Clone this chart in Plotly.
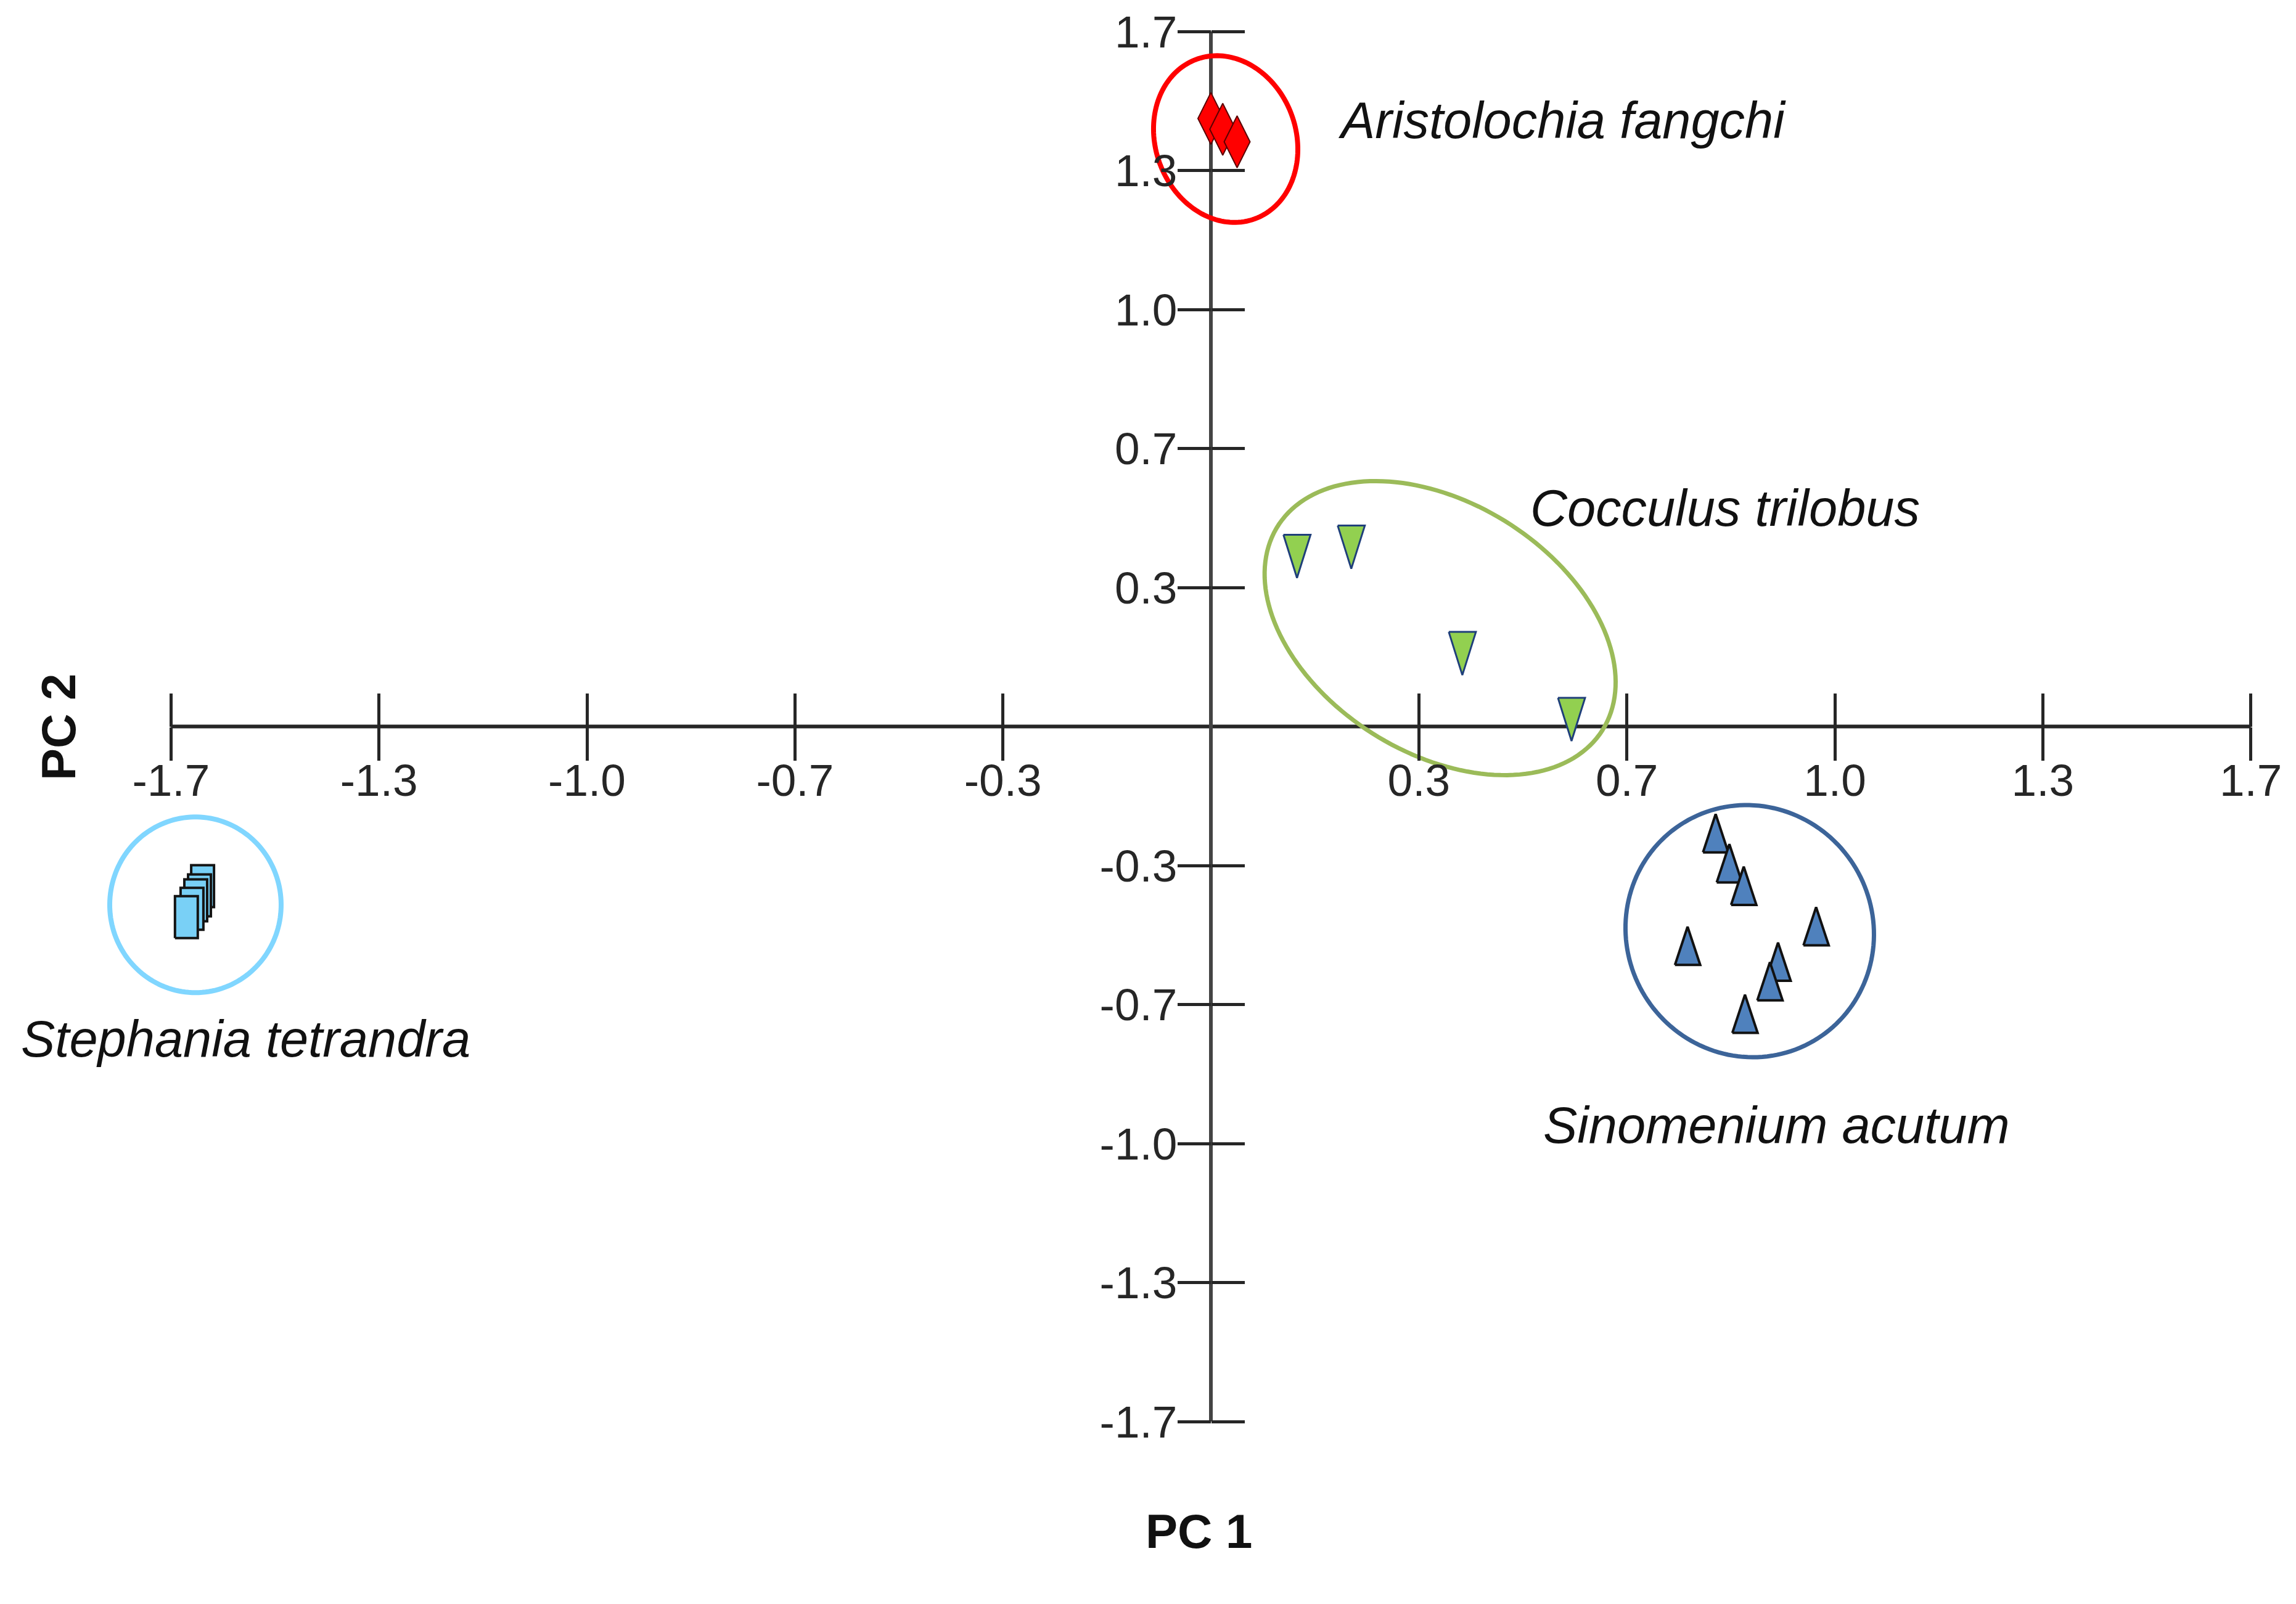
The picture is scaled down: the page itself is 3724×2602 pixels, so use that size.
import numpy as np
import plotly.graph_objects as go

# ---------------- data (PC scores) ----------------
aristolochia_pc1 = [0.000, 0.019, 0.042]
aristolochia_pc2 = [1.458, 1.432, 1.402]

cocculus_pc1 = [0.138, 0.225, 0.403, 0.578]
cocculus_pc2 = [0.408, 0.430, 0.175, 0.017]

sinomenium_pc1 = [0.809, 0.831, 0.854, 0.970, 0.764, 0.909, 0.896, 0.856]
sinomenium_pc2 = [-0.256, -0.328, -0.382, -0.479, -0.526, -0.564, -0.611, -0.689]

stephania_pc1 = [-1.616, -1.621, -1.627, -1.633, -1.642]
stephania_pc2 = [-0.383, -0.405, -0.417, -0.437, -0.457]

tick_vals = [-5/3, -4/3, -1.0, -2/3, -1/3, 1/3, 2/3, 1.0, 4/3, 5/3]
tick_text = ["-1.7", "-1.3", "-1.0", "-0.7", "-0.3", "0.3", "0.7", "1.0", "1.3", "1.7"]

group_names = ["Aristolochia fangchi", "Cocculus trilobus", "Sinomenium acutum", "Stephania tetrandra"]

# ---------------- layout geometry / styles ----------------
PAGE_W, PAGE_H = 3724, 2602
OFF = 8                                  # default body margin of the html page
W, H = PAGE_W - 2 * OFF, PAGE_H - 2 * OFF
px_x, px_y = 1012.0, 676.5               # pixels per PC unit
ORIGIN_X, ORIGIN_Y = 1964.0, 1178.5      # page pixel of (0, 0)
X_RANGE = [-(ORIGIN_X - OFF) / px_x, -(ORIGIN_X - OFF) / px_x + W / px_x]
Y_RANGE = [(ORIGIN_Y - OFF) / px_y - H / px_y, (ORIGIN_Y - OFF) / px_y]
AX_END = 5/3

AXIS_COLOR = "#262626"
TICK_FONT = dict(family="Liberation Sans Narrow, Arial Narrow, Liberation Sans, Arial", size=73, color="#262626")
LABEL_FONT = dict(family="Liberation Sans, Arial", size=83, color="#111111", style="italic")
TITLE_FONT = dict(family="Liberation Sans, Arial", size=78, color="#111111", weight="bold")


def paper_x(px):
    return (px - OFF) / W


def paper_y(py):
    return 1 - (py - OFF) / H


fig = go.Figure()


def poly_trace(xs, ys, fill, edge, width):
    return go.Scatter(x=xs, y=ys, mode="lines", fill="toself", fillcolor=fill,
                      line=dict(color=edge, width=width), hoverinfo="skip", showlegend=False)


def tri(x, y, w, h, down):
    dx, dy = w / 2 / px_x, h / 2 / px_y
    if down:
        return [x - dx, x + dx, x, x - dx], [y + dy, y + dy, y - dy, y + dy]
    return [x - dx, x + dx, x, x - dx], [y - dy, y - dy, y + dy, y - dy]


def rect(x, y, w, h):
    dx, dy = w / 2 / px_x, h / 2 / px_y
    return [x - dx, x + dx, x + dx, x - dx, x - dx], [y - dy, y - dy, y + dy, y + dy, y - dy]


# Stephania tetrandra: tall boxes, stacked back to front
for x, y in zip(stephania_pc1, stephania_pc2):
    xs, ys = rect(x, y, 37, 68)
    fig.add_trace(poly_trace(xs, ys, "#79D0F6", "#141414", 4))

# Cocculus trilobus: inverted green triangles
for x, y in zip(cocculus_pc1, cocculus_pc2):
    xs, ys = tri(x, y, 44, 70, down=True)
    fig.add_trace(poly_trace(xs, ys, "#92D050", "#1F3F7A", 3))

# Sinomenium acutum: blue triangles
for x, y in zip(sinomenium_pc1, sinomenium_pc2):
    xs, ys = tri(x, y, 41, 62, down=False)
    fig.add_trace(poly_trace(xs, ys, "#4F81BD", "#111111", 4))

# Aristolochia fangchi: red tall diamonds (on the overlaid axis pair, same scale)
fig.add_trace(go.Scatter(x=aristolochia_pc1, y=aristolochia_pc2, mode="markers",
                         xaxis="x2", yaxis="y2",
                         marker=dict(symbol="diamond-tall", size=60, color="#FF0000",
                                     line=dict(color="#5A0000", width=2)),
                         hoverinfo="skip", showlegend=False))

# ---------------- shapes: axis lines and group ellipses ----------------
shapes = [
    dict(type="line", xref="x", yref="y", x0=-AX_END, x1=AX_END, y0=0, y1=0,
         line=dict(color=AXIS_COLOR, width=6), layer="below"),
    dict(type="line", xref="x", yref="y", x0=0, x1=0, y0=-AX_END, y1=AX_END,
         line=dict(color="#444444", width=6), layer="below"),
]

# (centre pc1, centre pc2, semi-axis a px, semi-axis b px, angle deg, colour, width)
ellipses = [
    (0.0237, 1.4086, 137.8, 114.0, 70.0, "#FF0000", 8),
    (0.3674, 0.2359, 311.0, 203.0, 32.1, "#9BBB59", 7),
    (0.8636, -0.4908, 206.0, 200.0, 60.0, "#3C6499", 7),
    (-1.6275, -0.4276, 142.5, 139.0, 90.0, "#80D6FF", 8),
]


def ellipse_path(cx, cy, a, b, phi_deg, n=160):
    t = np.linspace(0, 2 * np.pi, n)
    phi = np.radians(phi_deg)
    ex = a * np.cos(t) * np.cos(phi) - b * np.sin(t) * np.sin(phi)
    ey = a * np.cos(t) * np.sin(phi) + b * np.sin(t) * np.cos(phi)
    xs = cx + ex / px_x
    ys = cy - ey / px_y
    return "M " + " L ".join(f"{x:.5f},{y:.5f}" for x, y in zip(xs, ys)) + " Z"


for cx, cy, a, b, ang, col, lw in ellipses:
    shapes.append(dict(type="path", xref="x", yref="y", path=ellipse_path(cx, cy, a, b, ang),
                       line=dict(color=col, width=lw), layer="below"))

# ---------------- annotations ----------------
label_pos = [(2168, 196), (2480, 824), (2501, 1825), (32, 1685)]  # page pixel left / middle
annotations = []
for name, (px, py) in zip(group_names, label_pos):
    annotations.append(dict(text=name, x=paper_x(px), y=paper_y(py), xref="paper", yref="paper",
                            xanchor="left", yanchor="middle", showarrow=False, font=LABEL_FONT))
annotations.append(dict(text="PC 1", x=paper_x(1944), y=paper_y(2484), xref="paper", yref="paper",
                        xanchor="center", yanchor="middle", showarrow=False, font=TITLE_FONT))
annotations.append(dict(text="PC 2", x=paper_x(95), y=paper_y(1180), xref="paper", yref="paper",
                        xanchor="center", yanchor="middle", showarrow=False, font=TITLE_FONT,
                        textangle=-90))

x_pos = (0 - Y_RANGE[0]) / (Y_RANGE[1] - Y_RANGE[0])
y_pos = (0 - X_RANGE[0]) / (X_RANGE[1] - X_RANGE[0])

common = dict(showgrid=False, zeroline=False, showline=False, automargin=False,
              tickvals=tick_vals, ticktext=tick_text, ticklen=54, tickwidth=5,
              tickcolor=AXIS_COLOR, layer="below traces")

fig.update_layout(
    template="none",
    width=W, height=H,
    margin=dict(l=0, r=0, t=0, b=0),
    paper_bgcolor="white", plot_bgcolor="white",
    showlegend=False,
    xaxis=dict(range=X_RANGE, domain=[0, 1], anchor="free", position=x_pos, side="bottom",
               ticks="outside", tickfont=TICK_FONT, ticklabelstandoff=-30, **common),
    yaxis=dict(range=Y_RANGE, domain=[0, 1], anchor="free", position=y_pos, side="left",
               ticks="outside", tickfont=TICK_FONT, ticklabelstandoff=-14, **common),
    xaxis2=dict(range=X_RANGE, domain=[0, 1], overlaying="x", anchor="free", position=x_pos,
                side="bottom", ticks="inside", showticklabels=False, **common),
    yaxis2=dict(range=Y_RANGE, domain=[0, 1], overlaying="y", anchor="free", position=y_pos,
                side="left", ticks="inside", showticklabels=False, **common),
    shapes=shapes,
    annotations=annotations,
)

fig.write_html("out.html")
